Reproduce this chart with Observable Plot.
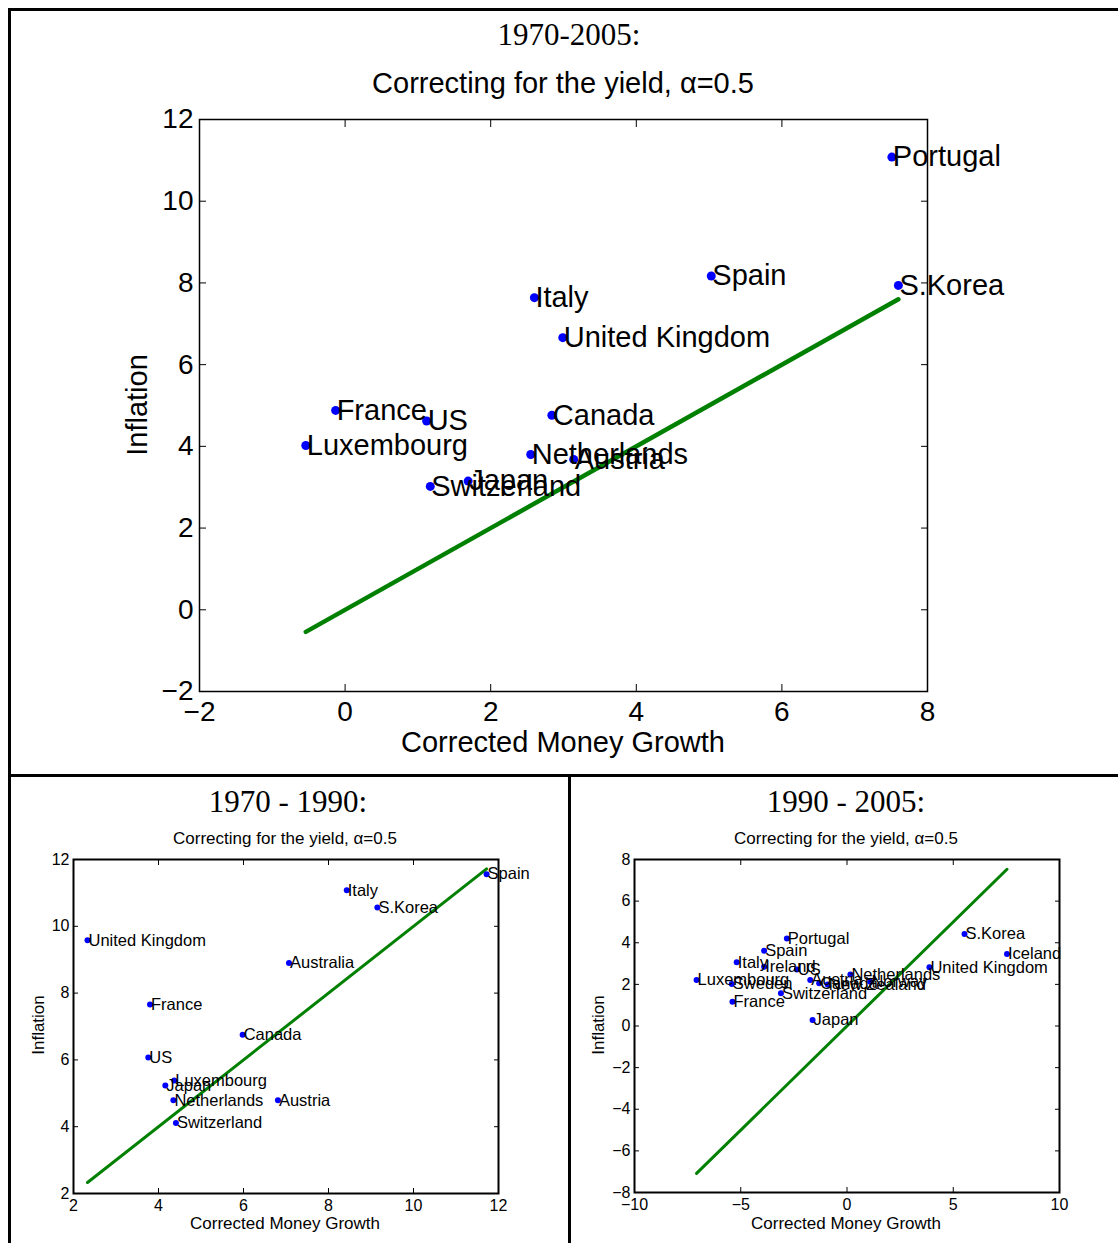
<!DOCTYPE html>
<html><head><meta charset="utf-8">
<script src="https://cdn.jsdelivr.net/npm/d3@7"></script>
<script src="https://cdn.jsdelivr.net/npm/@observablehq/plot@0.6"></script>
<style>
body{margin:0;background:#fff;}
#fig{position:relative;width:1118px;height:1243px;overflow:hidden;background:#fff;font-family:"Liberation Sans",Arial,sans-serif;color:#000;}
.t{position:absolute;white-space:nowrap;transform:translate(-50%,-50%);line-height:1;}
.rot{transform:translate(-50%,-50%) rotate(-90deg);}
.serif{font-family:"Liberation Serif","DejaVu Serif",serif;}
.bar{position:absolute;background:#000;}
.panel{position:absolute;}
.panel svg{overflow:visible;}
</style></head>
<body><div id="fig"></div>
<script>
// ---- 1970-2005 ----
const topCountries = ["Portugal","Spain","S.Korea","Italy","United Kingdom","France","US","Canada","Luxembourg","Netherlands","Austria","Japan","Switzerland"];
const topGrowth    = [7.51, 5.03, 7.60, 2.60, 2.99, -0.13, 1.12, 2.84, -0.54, 2.55, 3.14, 1.69, 1.17];
const topInflation = [11.08, 8.17, 7.94, 7.64, 6.66, 4.88, 4.62, 4.76, 4.02, 3.80, 3.68, 3.15, 3.02];
const topXTicks = [-2, 0, 2, 4, 6, 8];
const topYTicks = [-2, 0, 2, 4, 6, 8, 10, 12];

// ---- 1970-1990 ----
const leftCountries = ["Spain","Italy","S.Korea","United Kingdom","Australia","France","Canada","US","Luxembourg","Japan","Netherlands","Austria","Switzerland"];
const leftGrowth    = [11.72, 8.43, 9.15, 2.33, 7.07, 3.80, 5.98, 3.76, 4.37, 4.16, 4.35, 6.81, 4.41];
const leftInflation = [11.56, 11.08, 10.56, 9.58, 8.90, 7.66, 6.75, 6.07, 5.38, 5.23, 4.79, 4.79, 4.11];
const leftXTicks = [2, 4, 6, 8, 10, 12];
const leftYTicks = [2, 4, 6, 8, 10, 12];

// ---- 1990-2005 ----
const rightCountries = ["Portugal","Spain","Italy","Ireland","US","Luxembourg","Sweden","Austria","Canada","New Zealand","Netherlands","Norway","United Kingdom","S.Korea","Iceland","France","Switzerland","Japan"];
const rightGrowth    = [-2.83, -3.90, -5.19, -3.90, -2.36, -7.08, -5.42, -1.73, -1.31, -0.91, 0.16, 1.10, 3.88, 5.53, 7.53, -5.39, -3.11, -1.62];
const rightInflation = [4.21, 3.62, 3.06, 2.85, 2.72, 2.21, 2.02, 2.21, 2.05, 2.00, 2.48, 2.13, 2.82, 4.42, 3.46, 1.17, 1.57, 0.29];
const rightXTicks = [-10, -5, 0, 5, 10];
const rightYTicks = [-8, -6, -4, -2, 0, 2, 4, 6, 8];

const fmt = d => d < 0 ? "\u2212" + Math.abs(d) : String(d);

function panel(o) {
  const data = o.names.map((n, i) => ({name: n, x: o.gx[i], y: o.inf[i]}));
  const [lo, hi] = d3.extent(o.gx);
  const fit = [{x: lo, y: lo}, {x: hi, y: hi}];
  return Plot.plot({
    width: o.width, height: o.height,
    marginLeft: o.ml, marginRight: o.mr, marginTop: o.mt, marginBottom: o.mb,
    style: {fontFamily: "Liberation Sans, Arial, sans-serif", background: "transparent", color: "#000", overflow: "visible"},
    x: {domain: o.xDomain},
    y: {domain: o.yDomain},
    marks: [
      Plot.line(fit, {x: "x", y: "y", stroke: "#008000", strokeWidth: o.lineW}),
      Plot.dot(data, {x: "x", y: "y", r: o.r, fill: "#0000ff", stroke: "none"}),
      Plot.text(data, {x: "x", y: "y", text: "name", textAnchor: "start", dx: 1, fill: "#000", fontSize: o.labelSize}),
      Plot.frame({stroke: "#000", strokeWidth: o.frameW}),
      Plot.axisX(o.xTicks, {anchor: "bottom", tickSize: 0, tickPadding: o.padX, label: null, tickFormat: fmt, fontSize: o.tickSize}),
      Plot.axisY(o.yTicks, {anchor: "left", tickSize: 0, tickPadding: o.padY, label: null, tickFormat: fmt, fontSize: o.tickSize}),
      Plot.axisX(o.xTicks, {anchor: "bottom", tickSize: o.tickLen, dy: -o.tickLen, fill: "none", label: null}),
      Plot.axisX(o.xTicks, {anchor: "top", tickSize: o.tickLen, dy: o.tickLen, fill: "none", label: null}),
      Plot.axisY(o.yTicks, {anchor: "left", tickSize: o.tickLen, dx: o.tickLen, fill: "none", label: null}),
      Plot.axisY(o.yTicks, {anchor: "right", tickSize: o.tickLen, dx: -o.tickLen, fill: "none", label: null})
    ]
  });
}

const fig = document.getElementById("fig");
function addPanel(svg, left, top) {
  const d = document.createElement("div");
  d.className = "panel";
  d.style.left = left + "px"; d.style.top = top + "px";
  d.appendChild(svg);
  fig.appendChild(d);
}
function addText(txt, x, y, size, cls = "") {
  const d = document.createElement("div");
  d.className = "t " + cls;
  d.style.left = x + "px"; d.style.top = y + "px";
  d.style.fontSize = size + "px";
  d.textContent = txt;
  fig.appendChild(d);
}
function addBar(l, t, w, h) {
  const d = document.createElement("div");
  d.className = "bar";
  Object.assign(d.style, {left: l + "px", top: t + "px", width: w + "px", height: h + "px"});
  fig.appendChild(d);
}

addPanel(panel({
  names: topCountries, gx: topGrowth, inf: topInflation,
  width: 1118, height: 775, ml: 199, mr: 191, mt: 119, mb: 84,
  xDomain: [-2, 8], yDomain: [-2, 12], xTicks: topXTicks, yTicks: topYTicks,
  lineW: 4.5, r: 4.5, labelSize: 29, tickSize: 28, frameW: 1.5, tickLen: 7, padX: 10, padY: 6
}), 0, 0);

addPanel(panel({
  names: leftCountries, gx: leftGrowth, inf: leftInflation,
  width: 570, height: 468, ml: 73, mr: 72, mt: 84, mb: 50,
  xDomain: [2, 12], yDomain: [2, 12], xTicks: leftXTicks, yTicks: leftYTicks,
  lineW: 3, r: 3, labelSize: 16.5, tickSize: 16, frameW: 2, tickLen: 5, padX: 6, padY: 4
}), 0, 775);

addPanel(panel({
  names: rightCountries, gx: rightGrowth, inf: rightInflation,
  width: 548, height: 468, ml: 64, mr: 59, mt: 84, mb: 51,
  xDomain: [-10, 10], yDomain: [-8, 8], xTicks: rightXTicks, yTicks: rightYTicks,
  lineW: 3, r: 3, labelSize: 16.5, tickSize: 16, frameW: 2, tickLen: 5, padX: 6, padY: 4
}), 570, 775);

// titles and axis labels
addText("1970-2005:", 569, 34, 31, "serif");
addText("Correcting for the yield, \u03b1=0.5", 563, 83, 29);
addText("Corrected Money Growth", 563, 742, 29);
addText("Inflation", 137, 405, 29, "rot");

addText("1970 - 1990:", 288, 801, 31, "serif");
addText("Correcting for the yield, \u03b1=0.5", 285, 838, 17);
addText("Corrected Money Growth", 285, 1223, 17);
addText("Inflation", 38, 1025, 17, "rot");

addText("1990 - 2005:", 846, 801, 31, "serif");
addText("Correcting for the yield, \u03b1=0.5", 846, 838, 17);
addText("Corrected Money Growth", 846, 1223, 17);
addText("Inflation", 598, 1025, 17, "rot");

// figure frame lines
addBar(8, 8, 1110, 3);
addBar(8, 8, 3, 1235);
addBar(8, 774, 1110, 3);
addBar(568, 774, 3, 469);
</script>
</body></html>
